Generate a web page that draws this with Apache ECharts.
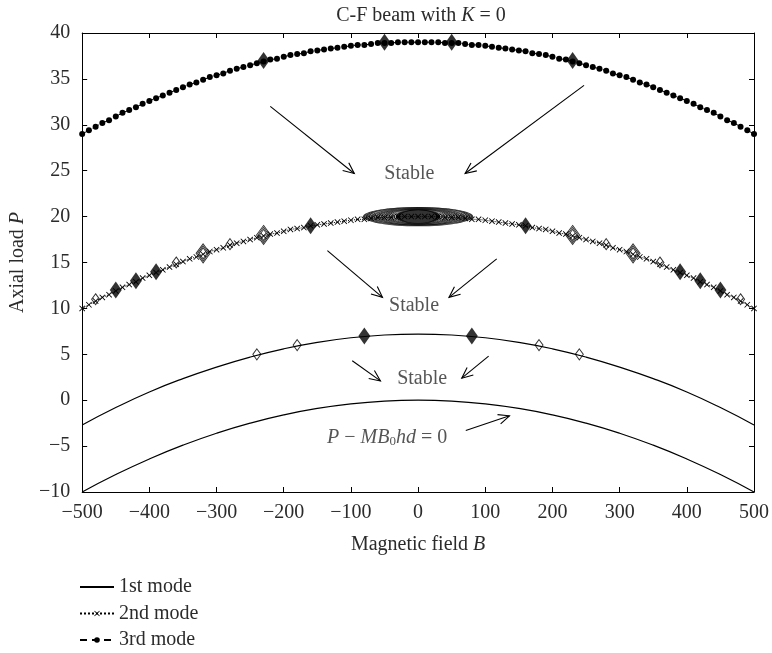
<!DOCTYPE html>
<html>
<head>
<meta charset="utf-8">
<script src="https://cdn.jsdelivr.net/npm/echarts@6/dist/echarts.min.js"></script>
<style>html,body{margin:0;padding:0;background:#fff}#c{width:772px;height:653px}</style>
</head>
<body>
<div id="c"></div>
<script>
// ---- data ----
const bFine = [-500,-490,-480,-470,-460,-450,-440,-430,-420,-410,-400,-390,-380,-370,-360,-350,-340,-330,-320,-310,-300,-290,-280,-270,-260,-250,-240,-230,-220,-210,-200,-190,-180,-170,-160,-150,-140,-130,-120,-110,-100,-90,-80,-70,-60,-50,-40,-30,-20,-10,0,10,20,30,40,50,60,70,80,90,100,110,120,130,140,150,160,170,180,190,200,210,220,230,240,250,260,270,280,290,300,310,320,330,340,350,360,370,380,390,400,410,420,430,440,450,460,470,480,490,500];
const mode2 = [10.0,10.4,10.8,11.2,11.5,11.9,12.3,12.6,12.9,13.3,13.6,13.9,14.2,14.5,14.8,15.1,15.4,15.6,15.9,16.2,16.4,16.6,16.9,17.1,17.3,17.5,17.7,17.9,18.1,18.2,18.4,18.6,18.7,18.8,19.0,19.1,19.2,19.3,19.4,19.5,19.6,19.7,19.7,19.8,19.9,19.9,19.9,20.0,20.0,20.0,20.0,20.0,20.0,20.0,19.9,19.9,19.9,19.8,19.7,19.7,19.6,19.5,19.4,19.3,19.2,19.1,19.0,18.8,18.7,18.6,18.4,18.2,18.1,17.9,17.7,17.5,17.3,17.1,16.9,16.6,16.4,16.2,15.9,15.6,15.4,15.1,14.8,14.5,14.2,13.9,13.6,13.3,12.9,12.6,12.3,11.9,11.5,11.2,10.8,10.4,10.0];
const mode3 = [29.0,29.4,29.8,30.2,30.5,30.9,31.3,31.6,31.9,32.3,32.6,32.9,33.2,33.5,33.8,34.1,34.4,34.6,34.9,35.2,35.4,35.6,35.9,36.1,36.3,36.5,36.7,36.9,37.1,37.2,37.4,37.6,37.7,37.8,38.0,38.1,38.2,38.3,38.4,38.5,38.6,38.7,38.7,38.8,38.9,38.9,38.9,39.0,39.0,39.0,39.0,39.0,39.0,39.0,38.9,38.9,38.9,38.8,38.7,38.7,38.6,38.5,38.4,38.3,38.2,38.1,38.0,37.8,37.7,37.6,37.4,37.2,37.1,36.9,36.7,36.5,36.3,36.1,35.9,35.6,35.4,35.2,34.9,34.6,34.4,34.1,33.8,33.5,33.2,32.9,32.6,32.3,31.9,31.6,31.3,30.9,30.5,30.2,29.8,29.4,29.0];
const bCoarse = [-500,-450,-400,-350,-300,-250,-200,-150,-100,-50,0,50,100,150,200,250,300,350,400,450,500];
const mode1 = [-2.7,-0.8,0.9,2.35,3.6,4.7,5.6,6.3,6.8,7.1,7.2,7.1,6.8,6.3,5.6,4.7,3.6,2.35,0.9,-0.8,-2.7];
const boundary = [-10,-8.1,-6.4,-4.9,-3.6,-2.5,-1.6,-0.9,-0.4,-0.1,0,-0.1,-0.4,-0.9,-1.6,-2.5,-3.6,-4.9,-6.4,-8.1,-10];
const filledDiamonds = [[-230,37],[-50,39],[50,39],[230,37],[-450,12],[-420,13],[-390,14],[-160,19],[160,19],[390,14],[420,13],[450,12],[-80,7],[80,7]];
const openDiamonds = [[-480,11],[-360,15],[-320,16],[-280,17],[-230,18],[230,18],[280,17],[320,16],[360,15],[480,11],[-240,5],[-180,6],[180,6],[240,5]];
const nestedDiamonds = [[-320,16],[320,16],[-230,18],[230,18]];
const ellipseCenter = [0, 20];
const arrows = [[-220,32,-95,24.7],[247,34.3,70,24.7],[-135,16.3,-53,11.2],[117,15.4,46,11.2],[-98,4.3,-56,2.1],[105,4.8,65,2.4],[71,-3.3,136,-1.7]];
const stableLabels = [[-13,24.7],[-6,10.3],[6,2.3]];
const equationLabel = [-46,-4.1];
const xTicks = {min:-500, max:500, step:100};
const yTicks = {min:-10, max:40, step:5};

// ---- chart ----
const FONT = "'Liberation Serif', 'Times New Roman', serif";
const TXT = '#2b2b2b';
const FS = 20;
const xPath = 'path://M0,1L1,0L5,4L9,0L10,1L6,5L10,9L9,10L5,6L1,10L0,9L4,5Z';
const pair = (xs, ys) => xs.map((x, i) => [x, ys[i]]);
const ellipseSizes = [[108,19],[103,18.6],[98,18.2],[93,17.8],[88,17.4],[83,17],[78,16.6],[73,16.2],[68,15.8],[63,15.4],[58,15],[53,14.6],[48,14.2],[43,13.8],[38,13.4]];
const ellipseCore = [44,14];
const nestSizes = [[11,15],[14,19]];
const ital = {fontFamily:FONT, fontSize:FS, fontStyle:'italic', color:TXT};

const chart = echarts.init(document.getElementById('c'), null, {renderer:'canvas'});
const axisCommon = {
  axisLine:{show:true, onZero:false, lineStyle:{color:'#000', width:1}},
  axisTick:{show:true, inside:true, length:5, lineStyle:{color:'#000'}},
  splitLine:{show:false}
};
const fmt = v => String(v).replace('-', '\u2212');
chart.setOption({
  animation:false,
  backgroundColor:'#fff',
  textStyle:{fontFamily:FONT},
  title:{
    text:'C-F beam with {i|K} = 0', left:416, top:1, textAlign:'center',
    textStyle:{fontFamily:FONT, fontSize:FS, fontWeight:'normal', color:TXT, rich:{i:ital}}
  },
  grid:{left:78, right:18, top:33, bottom:161, containLabel:false},
  legend:{
    orient:'vertical', left:79, top:577, padding:0, itemWidth:34, itemHeight:7, itemGap:6.5,
    textStyle:{fontFamily:FONT, fontSize:FS, color:TXT, lineHeight:20},
    data:[{name:'1st mode', itemStyle:{opacity:0}}, '2nd mode', '3rd mode']
  },
  xAxis:[
    Object.assign({type:'value', min:xTicks.min, max:xTicks.max, interval:xTicks.step, position:'bottom',
      name:'Magnetic field {i|B}', nameLocation:'middle', nameGap:43,
      nameTextStyle:{fontFamily:FONT, fontSize:FS, color:TXT, rich:{i:ital}},
      axisLabel:{fontFamily:FONT, fontSize:FS, color:TXT, margin:11, formatter:fmt}}, axisCommon),
    Object.assign({type:'value', min:xTicks.min, max:xTicks.max, interval:xTicks.step, position:'top', axisLabel:{show:false}}, axisCommon)
  ],
  yAxis:[
    Object.assign({type:'value', min:yTicks.min, max:yTicks.max, interval:yTicks.step, position:'left',
      name:'Axial load {i|P}', nameLocation:'middle', nameGap:38, nameRotate:90,
      nameTextStyle:{fontFamily:FONT, fontSize:FS, color:TXT, rich:{i:ital}},
      axisLabel:{fontFamily:FONT, fontSize:FS, color:TXT, margin:12, formatter:fmt}}, axisCommon),
    Object.assign({type:'value', min:yTicks.min, max:yTicks.max, interval:yTicks.step, position:'right', axisLabel:{show:false}}, axisCommon)
  ],
  series:[
    {name:'1st mode', type:'line', smooth:true, showSymbol:false,
     data:pair(bCoarse, mode1), lineStyle:{color:'#000', width:1.2}, itemStyle:{color:'#000'}},
    {name:'boundary', type:'line', smooth:true, showSymbol:false, symbol:'none',
     data:pair(bCoarse, boundary), lineStyle:{color:'#000', width:1.2}, itemStyle:{color:'#000'}},
    {name:'2nd mode', type:'line', symbol:xPath, symbolSize:6, showSymbol:true,
     data:pair(bFine, mode2), lineStyle:{color:'#000', width:1, type:'dotted'}, itemStyle:{color:'#000'}},
    {name:'3rd mode', type:'line', symbol:'circle', symbolSize:6, showSymbol:true,
     data:pair(bFine, mode3), lineStyle:{color:'#000', width:1, type:[7,5]}, itemStyle:{color:'#000'}},
    {type:'scatter', symbol:'circle', silent:true,
     data:ellipseSizes.map(s => ({value:ellipseCenter, symbolSize:s})),
     itemStyle:{color:'rgba(0,0,0,0)', borderColor:'#000', borderWidth:1}},
    {type:'scatter', symbol:'circle', silent:true, symbolSize:ellipseCore,
     data:[ellipseCenter], itemStyle:{color:'#000'}},
    {type:'scatter', symbol:'diamond', symbolSize:[8,11], silent:true,
     data:openDiamonds, itemStyle:{color:'#fff', borderColor:'#000', borderWidth:1}},
    {type:'scatter', symbol:'diamond', silent:true,
     data:nestedDiamonds.flatMap(p => nestSizes.map(s => ({value:p, symbolSize:s}))),
     itemStyle:{color:'rgba(0,0,0,0)', borderColor:'#000', borderWidth:1}},
    {type:'scatter', symbol:'diamond', symbolSize:[12,17], silent:true,
     data:filledDiamonds, itemStyle:{color:'#000'}},
    {type:'custom', silent:true, data:arrows, encode:{x:[0,2], y:[1,3]},
     renderItem:function(params, api){
       const p1 = api.coord([api.value(0), api.value(1)]);
       const p2 = api.coord([api.value(2), api.value(3)]);
       const ang = Math.atan2(p2[1]-p1[1], p2[0]-p1[0]);
       const L = 12, a = 0.42;
       return {type:'group', children:[
         {type:'line', shape:{x1:p1[0], y1:p1[1], x2:p2[0], y2:p2[1]}, style:{stroke:'#000', lineWidth:1.1}},
         {type:'polyline', shape:{points:[[p2[0]-L*Math.cos(ang-a), p2[1]-L*Math.sin(ang-a)], p2, [p2[0]-L*Math.cos(ang+a), p2[1]-L*Math.sin(ang+a)]]},
          style:{stroke:'#000', fill:null, lineWidth:1.1}}
       ]};
     }},
    {type:'scatter', symbolSize:0, silent:true, data:stableLabels,
     label:{show:true, position:'inside', formatter:'Stable', fontFamily:FONT, fontSize:FS, color:TXT}},
    {type:'scatter', symbolSize:0, silent:true, data:[equationLabel],
     label:{show:true, position:'inside', formatter:'{i|P} \u2212 {i|MB}{s|0}{i|hd} = 0', fontFamily:FONT, fontSize:FS, color:TXT,
       rich:{i:ital, s:{fontFamily:FONT, fontSize:13, color:TXT, verticalAlign:'bottom', padding:[8,0,0,0]}}}}
  ]
});
</script>
</body>
</html>
